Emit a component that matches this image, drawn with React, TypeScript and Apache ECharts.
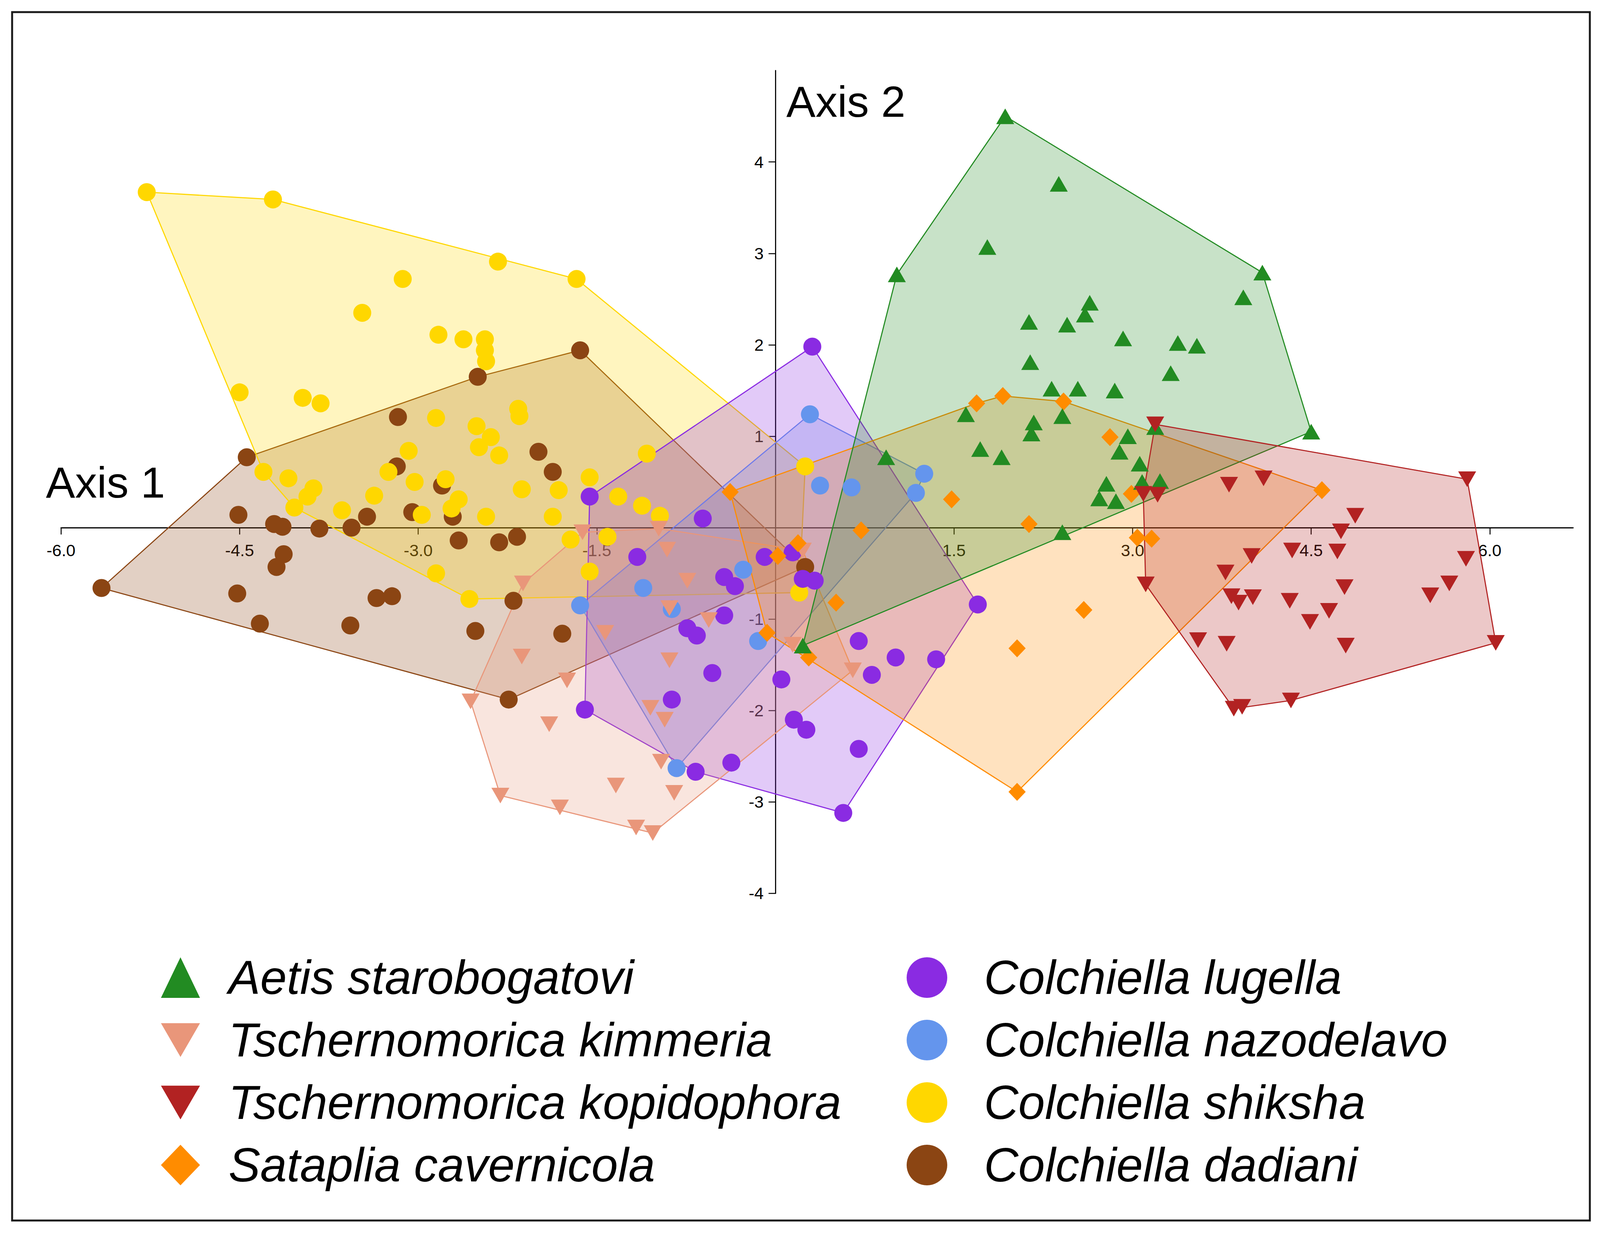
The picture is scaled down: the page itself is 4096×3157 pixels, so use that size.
import React, { useEffect, useRef } from 'react';
import * as echarts from 'echarts';

// ---------- data (Axis 1, Axis 2) ----------
const xTickValues = [-6, -4.5, -3, -1.5, 1.5, 3, 4.5, 6];
const yTickValues = [-4, -3, -2, -1, 1, 2, 3, 4];

const aetisStarobogatovi: [number, number][] = [
  [1.93, 4.5], [2.38, 3.76], [1.78, 3.07], [1.02, 2.77], [2.64, 2.46], [2.6, 2.33], [2.13, 2.25],
  [2.45, 2.22], [2.92, 2.07], [3.38, 2.02], [3.54, 1.99], [4.09, 2.79], [3.93, 2.52], [4.5, 1.05],
  [2.14, 1.81], [3.32, 1.69], [2.32, 1.52], [2.54, 1.52], [2.85, 1.5], [1.6, 1.24], [2.17, 1.15],
  [2.41, 1.22], [2.15, 1.03], [2.96, 1.0], [3.19, 1.1], [2.89, 0.83], [1.72, 0.86], [1.9, 0.77],
  [0.93, 0.77], [3.06, 0.7], [2.78, 0.48], [3.08, 0.5], [3.23, 0.51], [2.72, 0.32], [2.86, 0.29],
  [2.41, -0.05], [0.23, -1.29],
];

const tschernomoricaKimmeria: [number, number][] = [
  [-1.62, -0.05], [-0.98, -0.01], [-0.91, -0.24], [-0.74, -0.58], [-2.12, -0.61], [-0.89, -0.88],
  [-0.56, -1.01], [-1.43, -1.15], [0.23, -0.25], [0.145, -1.28], [-2.13, -1.41], [-1.75, -1.67],
  [-0.89, -1.45], [-2.56, -1.9], [-1.9, -2.15], [-1.05, -1.97], [-0.93, -2.1], [-0.96, -2.56],
  [-1.34, -2.82], [-0.85, -2.9], [-2.31, -2.93], [-1.81, -3.06], [-1.17, -3.28], [-1.03, -3.34],
  [0.65, -1.56],
];

const tschernomoricaKopidophora: [number, number][] = [
  [3.19, 1.13], [3.09, 0.37], [3.21, 0.36], [3.11, -0.62], [3.81, 0.47], [4.1, 0.54], [4.87, 0.13],
  [4.75, -0.04], [5.81, 0.53], [4.34, -0.25], [4.72, -0.26], [4.0, -0.31], [5.8, -0.34], [3.78, -0.49],
  [4.78, -0.65], [5.66, -0.61], [5.5, -0.74], [3.83, -0.75], [3.89, -0.82], [4.01, -0.76], [4.32, -0.8],
  [4.65, -0.91], [4.49, -1.03], [3.55, -1.23], [3.79, -1.27], [4.79, -1.29], [6.05, -1.26],
  [3.85, -1.98], [3.92, -1.96], [4.33, -1.89],
];

const satapliaCavernicola: [number, number][] = [
  [-0.38, 0.39], [0.02, -0.31], [0.19, -0.17], [-0.07, -1.15], [0.28, -1.42], [1.69, 1.36],
  [1.91, 1.44], [2.42, 1.38], [2.81, 0.99], [1.48, 0.31], [2.13, 0.04], [0.72, -0.03], [0.51, -0.82],
  [2.99, 0.37], [3.04, -0.11], [3.16, -0.12], [2.59, -0.9], [2.03, -1.32], [2.03, -2.89], [4.59, 0.41],
];

const colchiellaLugella: [number, number][] = [
  [0.31, 1.98], [-1.56, 0.34], [-0.61, 0.1], [-1.16, -0.32], [-0.09, -0.32], [0.145, -0.27],
  [-0.43, -0.54], [-0.34, -0.64], [0.23, -0.56], [0.33, -0.58], [-0.43, -0.96], [-0.74, -1.1],
  [-0.66, -1.18], [-0.53, -1.59], [-0.87, -1.88], [-1.6, -1.99], [0.05, -1.66], [0.155, -2.1],
  [0.26, -2.21], [-0.37, -2.57], [-0.67, -2.67], [0.7, -1.24], [1.01, -1.42], [1.35, -1.44],
  [0.81, -1.61], [0.7, -2.42], [0.57, -3.12], [1.7, -0.84],
];

const colchiellaNazodelavo: [number, number][] = [
  [0.29, 1.24], [0.375, 0.46], [0.64, 0.44], [1.25, 0.59], [1.18, 0.38], [-0.27, -0.46],
  [-1.11, -0.66], [-1.64, -0.85], [-0.87, -0.89], [-0.145, -1.24], [-0.83, -2.63],
];

const colchiellaShiksha: [number, number][] = [
  [-5.28, 3.67], [-4.22, 3.59], [-3.13, 2.72], [-3.47, 2.35], [-2.33, 2.91], [-1.67, 2.72],
  [-2.83, 2.11], [-2.62, 2.06], [-2.44, 2.06], [-2.44, 1.94], [-2.43, 1.82], [-4.5, 1.48],
  [-3.97, 1.42], [-3.82, 1.36], [-2.85, 1.2], [-3.08, 0.84], [-3.25, 0.61], [-3.03, 0.5],
  [-3.37, 0.35], [-3.64, 0.19], [-2.97, 0.14], [-4.3, 0.61], [-4.09, 0.54], [-3.88, 0.43],
  [-3.93, 0.34], [-4.04, 0.22], [-2.51, 1.11], [-2.39, 0.99], [-2.49, 0.88], [-2.32, 0.79],
  [-2.16, 1.3], [-2.15, 1.22], [-1.08, 0.81], [-1.56, 0.55], [-1.82, 0.41], [-2.13, 0.42],
  [-2.77, 0.53], [-2.66, 0.31], [-2.72, 0.21], [-2.43, 0.12], [-1.87, 0.12], [-1.32, 0.34],
  [-1.12, 0.24], [-0.97, 0.13], [-1.72, -0.13], [-1.41, -0.1], [-1.56, -0.48], [-2.85, -0.5],
  [-2.57, -0.78], [0.25, 0.67], [0.2, -0.71],
];

const colchiellaDadiani: [number, number][] = [
  [-4.44, 0.77], [-3.17, 1.21], [-3.18, 0.67], [-3.05, 0.17], [-4.51, 0.14], [-4.21, 0.04],
  [-4.14, 0.01], [-3.83, -0.01], [-3.56, 0.0], [-3.43, 0.12], [-4.13, -0.29], [-4.19, -0.43],
  [-5.66, -0.66], [-4.52, -0.72], [-3.35, -0.77], [-3.22, -0.75], [-4.33, -1.05], [-3.57, -1.07],
  [-1.64, 1.94], [-2.5, 1.65], [-1.99, 0.83], [-1.87, 0.61], [-2.8, 0.46], [-2.71, 0.12],
  [-2.66, -0.14], [-2.32, -0.16], [-2.17, -0.1], [-2.2, -0.8], [-2.52, -1.13], [-1.79, -1.16],
  [0.25, -0.43], [-2.24, -1.88],
];

const legendLeftNames = [
  'Aetis starobogatovi',
  'Tschernomorica kimmeria',
  'Tschernomorica kopidophora',
  'Sataplia cavernicola',
];
const legendRightNames = [
  'Colchiella lugella',
  'Colchiella nazodelavo',
  'Colchiella shiksha',
  'Colchiella dadiani',
];

// ---------- styling / layout ----------
const FONT = "'Liberation Sans', Arial, Helvetica, sans-serif";
const DOWN_TRIANGLE = 'path://M0,0L100,0L50,86.6Z';

const X_MIN = -6;
const X_MAX = 6.7;
const Y_MIN = -4;
const Y_MAX = 5;
const GRID_LEFT = 156.2;
const GRID_TOP = 180.6;
const GRID_WIDTH = 3871;
const GRID_HEIGHT = 2106.8;
// shift axes so they cross at the origin
const X_AXIS_OFFSET = -(GRID_HEIGHT * (0 - Y_MIN)) / (Y_MAX - Y_MIN);
const Y_AXIS_OFFSET = -(GRID_WIDTH * (0 - X_MIN)) / (X_MAX - X_MIN);

type Species = {
  name: string;
  data: [number, number][];
  color: string;
  symbol: string;
  size: number | number[];
};

// drawing order (bottom to top)
const speciesList: Species[] = [
  { name: 'Colchiella dadiani', data: colchiellaDadiani, color: '#8B4513', symbol: 'circle', size: 46 },
  { name: 'Colchiella shiksha', data: colchiellaShiksha, color: '#FFD700', symbol: 'circle', size: 46 },
  { name: 'Colchiella nazodelavo', data: colchiellaNazodelavo, color: '#6495ED', symbol: 'circle', size: 46 },
  { name: 'Colchiella lugella', data: colchiellaLugella, color: '#8A2BE2', symbol: 'circle', size: 46 },
  { name: 'Tschernomorica kimmeria', data: tschernomoricaKimmeria, color: '#E9967A', symbol: DOWN_TRIANGLE, size: [46, 40] },
  { name: 'Sataplia cavernicola', data: satapliaCavernicola, color: '#FF8C00', symbol: 'diamond', size: [44, 46] },
  { name: 'Aetis starobogatovi', data: aetisStarobogatovi, color: '#228B22', symbol: 'triangle', size: [46, 40] },
  { name: 'Tschernomorica kopidophora', data: tschernomoricaKopidophora, color: '#B22222', symbol: DOWN_TRIANGLE, size: [46, 40] },
];

function convexHull(points: [number, number][]): [number, number][] {
  const pts = points.slice().sort((a, b) => a[0] - b[0] || a[1] - b[1]);
  const cross = (o: number[], a: number[], b: number[]) =>
    (a[0] - o[0]) * (b[1] - o[1]) - (a[1] - o[1]) * (b[0] - o[0]);
  const lower: [number, number][] = [];
  for (const p of pts) {
    while (lower.length >= 2 && cross(lower[lower.length - 2], lower[lower.length - 1], p) <= 0) lower.pop();
    lower.push(p);
  }
  const upper: [number, number][] = [];
  for (let i = pts.length - 1; i >= 0; i--) {
    const p = pts[i];
    while (upper.length >= 2 && cross(upper[upper.length - 2], upper[upper.length - 1], p) <= 0) upper.pop();
    upper.push(p);
  }
  return lower.slice(0, -1).concat(upper.slice(0, -1));
}

function rgba(hex: string, a: number) {
  const n = parseInt(hex.slice(1), 16);
  return `rgba(${(n >> 16) & 255},${(n >> 8) & 255},${n & 255},${a})`;
}

function buildOption() {
  const hullSeries = speciesList.map((s, i) => {
    const hull = convexHull(s.data);
    return {
      type: 'custom',
      name: s.name + ' (hull)',
      coordinateSystem: 'cartesian2d',
      silent: true,
      z: 1,
      data: hull,
      encode: { x: 0, y: 1 },
      renderItem: (params: any, api: any) => {
        if (params.dataIndex !== 0) return null;
        const pts = hull.map((p) => api.coord(p));
        return {
          type: 'polygon',
          z2: i,
          shape: { points: pts },
          style: { fill: rgba(s.color, 0.25), stroke: s.color, lineWidth: 2.8 },
        };
      },
    };
  });

  const scatterSeries = speciesList.map((s, i) => ({
    type: 'scatter',
    name: s.name,
    data: s.data,
    symbol: s.symbol,
    symbolSize: s.size,
    z: 3 + i,
    itemStyle: { color: s.color, opacity: 1 },
    emphasis: { disabled: true },
  }));

  const legendText = {
    fontSize: 122,
    fontStyle: 'italic',
    fontFamily: FONT,
    color: '#000',
  };

  const axisLabelStyle = { fontSize: 43, color: '#000', fontFamily: FONT };

  return {
    animation: false,
    backgroundColor: '#ffffff',
    textStyle: { fontFamily: FONT },
    grid: {
      left: GRID_LEFT,
      top: GRID_TOP,
      width: GRID_WIDTH,
      height: GRID_HEIGHT,
      containLabel: false,
      outerBoundsMode: 'none',
    },
    xAxis: {
      type: 'value',
      min: X_MIN,
      max: X_MAX,
      position: 'bottom',
      offset: X_AXIS_OFFSET,
      name: 'Axis 1',
      nameLocation: 'start',
      nameGap: 38.6,
      nameMoveOverlap: false,
      nameTextStyle: {
        fontSize: 112,
        color: '#000',
        fontFamily: FONT,
        align: 'left',
        verticalAlign: 'bottom',
        padding: [0, 0, 60, 0],
      },
      axisLine: { show: true, onZero: false, lineStyle: { color: '#000', width: 2.8 } },
      axisTick: { show: true, length: 17.5, lineStyle: { color: '#000', width: 2.5 }, customValues: xTickValues },
      axisLabel: {
        ...axisLabelStyle,
        customValues: xTickValues,
        formatter: (v: number) => v.toFixed(1),
        margin: 36,
      },
      splitLine: { show: false },
    },
    yAxis: {
      type: 'value',
      min: Y_MIN,
      max: Y_MAX,
      position: 'left',
      offset: Y_AXIS_OFFSET,
      name: 'Axis 2',
      nameLocation: 'end',
      nameGap: -136,
      nameMoveOverlap: false,
      nameTextStyle: {
        fontSize: 112,
        color: '#000',
        fontFamily: FONT,
        align: 'left',
        verticalAlign: 'bottom',
        padding: [0, 0, 0, 28],
      },
      axisLine: { show: true, onZero: false, lineStyle: { color: '#000', width: 2.8 } },
      axisTick: { show: true, length: 17.5, lineStyle: { color: '#000', width: 2.5 }, customValues: yTickValues },
      axisLabel: {
        ...axisLabelStyle,
        customValues: yTickValues,
        formatter: (v: number) => String(v),
        margin: 30,
      },
      splitLine: { show: false },
    },
    legend: [
      {
        data: legendLeftNames,
        orient: 'vertical',
        left: 407,
        top: 2437,
        itemWidth: 100,
        itemHeight: 104,
        itemGap: 38,
        selectedMode: false,
        textStyle: { ...legendText, padding: [0, 0, 0, 68] },
      },
      {
        data: legendRightNames,
        orient: 'vertical',
        left: 2316,
        top: 2437,
        itemWidth: 104,
        itemHeight: 104,
        itemGap: 38,
        selectedMode: false,
        textStyle: { ...legendText, padding: [0, 0, 0, 89] },
      },
    ],
    graphic: [
      {
        type: 'rect',
        silent: true,
        z: 100,
        shape: { x: 31, y: 31, width: 4039, height: 3094 },
        style: { fill: 'transparent', stroke: '#1a1a1a', lineWidth: 5 },
      },
    ],
    series: [...hullSeries, ...scatterSeries],
  };
}

export default function App() {
  const ref = useRef<HTMLDivElement>(null);
  useEffect(() => {
    if (!ref.current) return;
    const chart = echarts.init(ref.current, undefined, { renderer: 'svg' });
    chart.setOption(buildOption() as any);
    return () => chart.dispose();
  }, []);
  return (
    <div
      ref={ref}
      style={{ position: 'fixed', left: 0, top: 0, width: 4096, height: 3157, background: '#fff' }}
    />
  );
}
